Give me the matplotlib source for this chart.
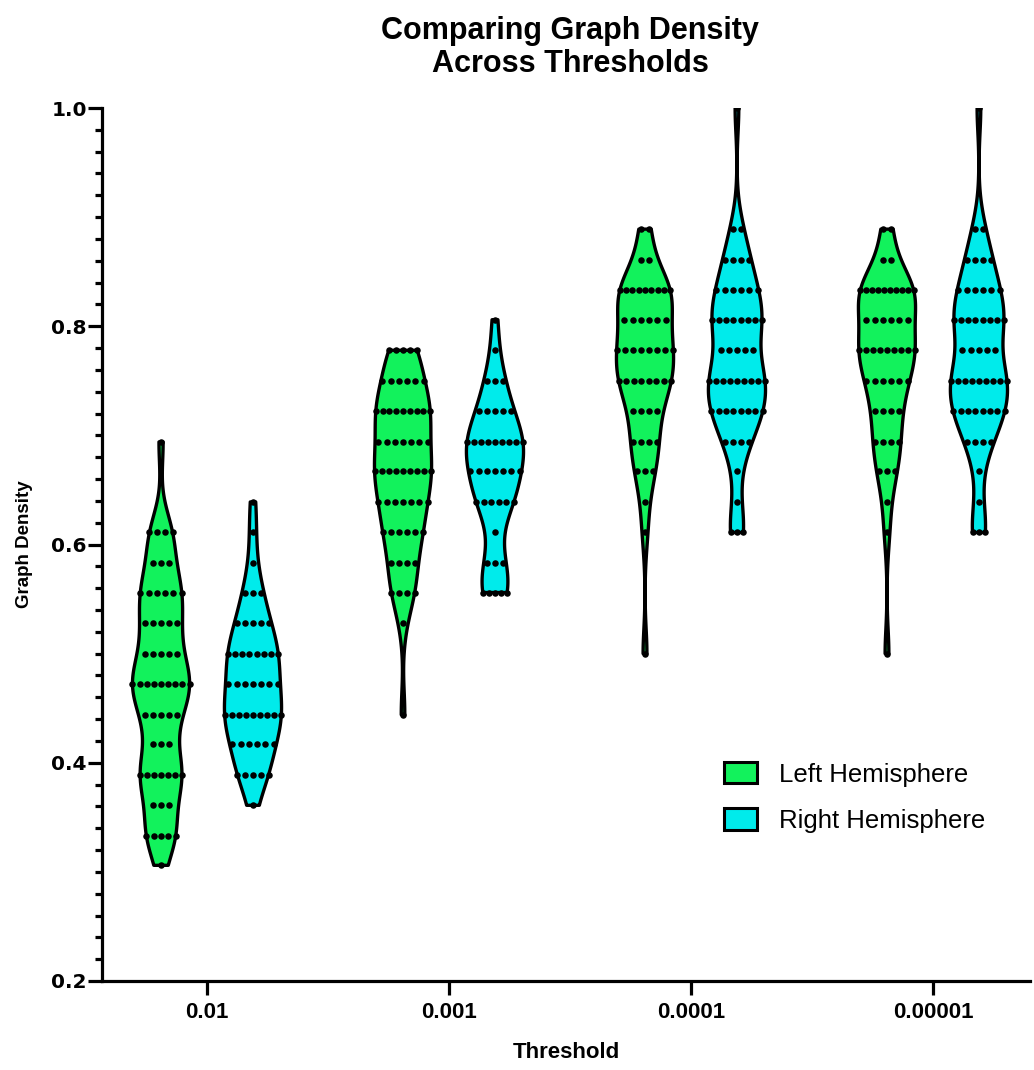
import numpy as np
import matplotlib
matplotlib.use("Agg")
import matplotlib.pyplot as plt
from matplotlib.patches import Patch
from matplotlib import font_manager
from matplotlib.ticker import MultipleLocator, FixedLocator

# ---- data -------------------------------------------------------------
thresholds = ["0.01", "0.001", "0.0001", "0.00001"]
groups = ["Left Hemisphere", "Right Hemisphere"]

# distinct graph-density values observed and how many graphs had each
left_levels = [
    [0.306, 0.333, 0.361, 0.389, 0.417, 0.444, 0.472, 0.500, 0.528, 0.556, 0.583, 0.611, 0.694],
    [0.444, 0.528, 0.556, 0.583, 0.611, 0.639, 0.667, 0.694, 0.722, 0.750, 0.778],
    [0.500, 0.611, 0.639, 0.667, 0.694, 0.722, 0.750, 0.778, 0.806, 0.833, 0.861, 0.889],
    [0.500, 0.611, 0.639, 0.667, 0.694, 0.722, 0.750, 0.778, 0.806, 0.833, 0.861, 0.889],
]
left_counts = [
    [1, 5, 3, 7, 3, 5, 9, 5, 5, 6, 3, 4, 1],
    [1, 1, 4, 4, 6, 7, 9, 7, 9, 6, 5],
    [1, 1, 1, 3, 4, 4, 8, 8, 6, 9, 2, 2],
    [1, 1, 1, 3, 4, 4, 6, 9, 6, 10, 2, 2],
]
right_levels = [
    [0.361, 0.389, 0.417, 0.444, 0.472, 0.500, 0.528, 0.556, 0.583, 0.611, 0.639],
    [0.556, 0.583, 0.611, 0.639, 0.667, 0.694, 0.722, 0.750, 0.778, 0.806],
    [0.611, 0.639, 0.667, 0.694, 0.722, 0.750, 0.778, 0.806, 0.833, 0.861, 0.889, 1.000],
    [0.611, 0.639, 0.667, 0.694, 0.722, 0.750, 0.778, 0.806, 0.833, 0.861, 0.889, 1.000],
]
right_counts = [
    [1, 5, 6, 9, 7, 8, 5, 3, 1, 1, 1],
    [5, 3, 1, 6, 7, 9, 5, 3, 1, 1],
    [3, 1, 1, 4, 8, 9, 5, 8, 6, 4, 2, 1],
    [3, 1, 1, 4, 8, 9, 5, 8, 6, 4, 2, 1],
]

colors = ["#12F25C", "#00EBEB"]

# ---- fonts ------------------------------------------------------------
installed = {f.name for f in font_manager.fontManager.ttflist}
sans = "Liberation Sans" if "Liberation Sans" in installed else "DejaVu Sans"

# ---- figure -----------------------------------------------------------
W, H = 1034, 1070
fig = plt.figure(figsize=(W / 100, H / 100), dpi=100)
fig.patch.set_facecolor("white")
ax = fig.add_axes([102 / W, 89 / H, 928 / W, 873 / H])

BW = 0.022          # kernel bandwidth (density units)
HALF = 0.118        # max half-width of a violin (category units)
OFFSET = 0.19       # side offset of each hemisphere from the tick
DOT_GAP = 0.034     # preferred horizontal spacing of dots


def draw_violin(center, levels, counts, color):
    levels = np.asarray(levels, float)
    counts = np.asarray(counts, float)
    y = np.linspace(levels.min(), levels.max(), 600)
    dens = (counts[None, :] * np.exp(-0.5 * ((y[:, None] - levels[None, :]) / BW) ** 2)).sum(axis=1)
    hw = HALF * dens / dens.max()
    xs = np.concatenate([center + hw, (center - hw)[::-1]])
    ys = np.concatenate([y, y[::-1]])
    ax.fill(xs, ys, facecolor=color, edgecolor="black", linewidth=2.4,
            joinstyle="round", zorder=2)
    # dots: one row per density value, spread inside the violin
    for lv, n in zip(levels, counts.astype(int)):
        w = np.interp(lv, y, hw)
        if n > 1:
            gap = min(DOT_GAP, 2 * w / (n - 1))
            offs = (np.arange(n) - (n - 1) / 2) * gap
        else:
            offs = np.zeros(1)
        ax.scatter(center + offs, np.full(n, lv), s=22, color="black",
                   linewidths=0, zorder=3)


for i in range(len(thresholds)):
    draw_violin(i - OFFSET, left_levels[i], left_counts[i], colors[0])
    draw_violin(i + OFFSET, right_levels[i], right_counts[i], colors[1])

# ---- axes styling -----------------------------------------------------
ax.set_xlim(-0.434, 3.401)
ax.set_ylim(0.2, 1.0)
for s in ["top", "right"]:
    ax.spines[s].set_visible(False)
for s in ["left", "bottom"]:
    ax.spines[s].set_linewidth(2.3)
    ax.spines[s].set_capstyle("projecting")

ax.yaxis.set_major_locator(FixedLocator([0.2, 0.4, 0.6, 0.8, 1.0]))
ax.yaxis.set_minor_locator(MultipleLocator(0.02))
ax.set_yticklabels(["0.2", "0.4", "0.6", "0.8", "1.0"],
                   fontfamily="DejaVu Sans", fontweight="bold", fontsize=14.5)
ax.tick_params(axis="y", which="major", length=10, width=2.3, pad=1)
ax.tick_params(axis="y", which="minor", length=5, width=2.3)

ax.set_xticks(range(len(thresholds)))
ax.set_xticklabels(thresholds, fontfamily=sans, fontweight="bold", fontsize=16)
ax.tick_params(axis="x", which="major", length=10, width=2.3, pad=5)

ax.set_xlabel("Threshold", fontfamily=sans, fontweight="bold", fontsize=16, labelpad=14)
ax.set_ylabel("Graph Density", fontfamily=sans, fontweight="bold", fontsize=13.5, labelpad=13)

fig.text(570 / W, 1 - 16 / H, "Comparing Graph Density\nAcross Thresholds",
         ha="center", va="top", fontfamily=sans, fontweight="bold",
         fontsize=22, linespacing=1.15)

handles = [Patch(facecolor=c, edgecolor="black", linewidth=2.2) for c in colors]
ax.legend(handles, groups, loc="upper left",
          bbox_to_anchor=((724 - 102) / 928, (981 - 762) / 873),
          frameon=False, prop={"family": sans, "size": 18.5},
          handlelength=1.3, handleheight=0.9, handletextpad=0.85,
          labelspacing=0.85, borderpad=0, borderaxespad=0)

fig.savefig("out.png", dpi=100, facecolor="white")
